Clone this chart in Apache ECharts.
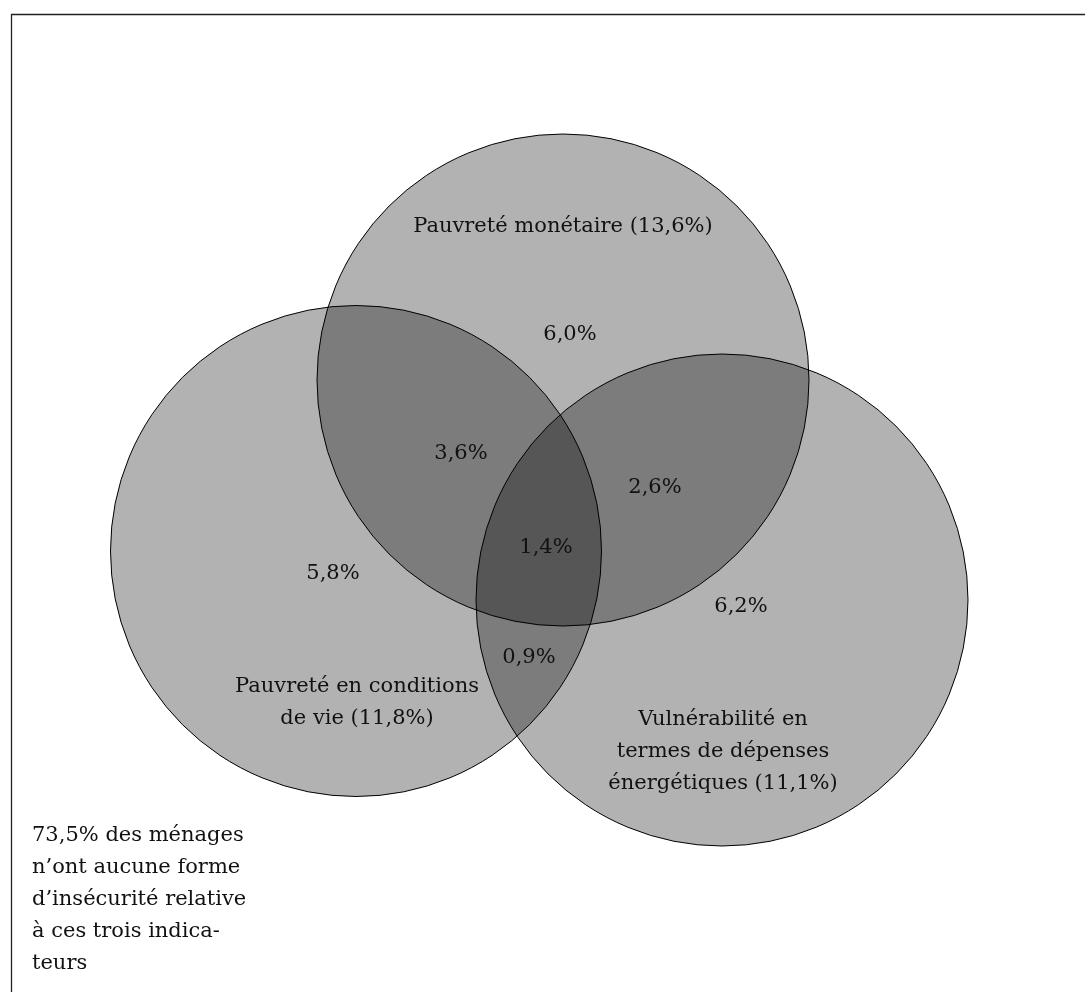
<!DOCTYPE html>
<html>
<head>
<meta charset="utf-8">
<script src="https://cdn.jsdelivr.net/npm/echarts@6/dist/echarts.min.js"></script>
<style>
html,body{margin:0;padding:0;background:#fff;}
#chart{width:1085px;height:992px;}
</style>
</head>
<body>
<div id="chart"></div>
<script>
// ---- Data ----
// Three sets of the Venn diagram
const setNames = ['Pauvreté monétaire', 'Pauvreté en conditions\nde vie', 'Vulnérabilité en\ntermes de dépenses\nénergétiques'];
const setTotals = [13.6, 11.8, 11.1];
// Venn layout in diagram units
const setCenterX = [563, 356, 722];
const setCenterY = [380, 551, 600];
const setRadius = [246, 245.5, 246];
// Set label anchors (diagram units)
const setLabelX = [563, 357, 723];
const setLabelY = [227, 703, 752];

// Region shares (%)
const regionNames = ['M seul', 'M∩C', 'M∩E', 'M∩C∩E', 'C seul', 'E seul', 'C∩E'];
const regionValues = [6.0, 3.6, 2.6, 1.4, 5.8, 6.2, 0.9];
const regionX = [570, 461, 655, 546, 333, 741, 529];
const regionY = [335, 454, 488, 548, 574, 607, 658];

// Households outside all sets
const noneShare = '73,5%';
const noneText = noneShare + ' des ménages\nn\u2019ont aucune forme\nd\u2019insécurité relative\nà ces trois indica-\nteurs';
const noneX = 32;
const noneY = 900;

const fmt = v => v.toFixed(1).replace('.', ',') + '%';
const FONT = '21px "DejaVu Serif"';

const circleData = setCenterX.map((x, i) => [x, setCenterY[i], setRadius[i]]);
const labelData = [];
setNames.forEach((n, i) => labelData.push([setLabelX[i], setLabelY[i], n + ' (' + fmt(setTotals[i]) + ')', 'center']));
regionValues.forEach((v, i) => labelData.push([regionX[i], regionY[i], fmt(v), 'center']));
labelData.push([noneX, noneY, noneText, 'left']);

const chart = echarts.init(document.getElementById('chart'), null, {renderer: 'canvas'});
chart.setOption({
  animation: false,
  backgroundColor: '#ffffff',
  grid: {left: 0, top: 0, width: 1085, height: 992, containLabel: false},
  xAxis: {type: 'value', min: 0, max: 1085, show: false},
  yAxis: {type: 'value', min: 0, max: 992, inverse: true, show: false},
  graphic: [{
    type: 'rect', left: 9, top: 12, z: 100,
    shape: {width: 1200, height: 1100},
    style: {fill: 'none', stroke: '#222', lineWidth: 1.3}
  }],
  series: [{
    type: 'custom',
    data: circleData,
    z: 2,
    renderItem: function (params, api) {
      const c = api.coord([api.value(0), api.value(1)]);
      const r = api.size([api.value(2), 0])[0];
      return {
        type: 'circle',
        shape: {cx: c[0], cy: c[1], r: r},
        style: {fill: 'rgba(0,0,0,0.3)', stroke: '#000', lineWidth: 1}
      };
    }
  }, {
    type: 'custom',
    data: labelData,
    z: 5,
    renderItem: function (params, api) {
      const d = labelData[params.dataIndex];
      const c = api.coord([d[0], d[1]]);
      return {
        type: 'text',
        x: c[0], y: c[1],
        style: {
          text: d[2], fill: '#111', font: FONT,
          align: d[3], verticalAlign: 'middle', lineHeight: 32
        }
      };
    }
  }]
});
</script>
</body>
</html>
